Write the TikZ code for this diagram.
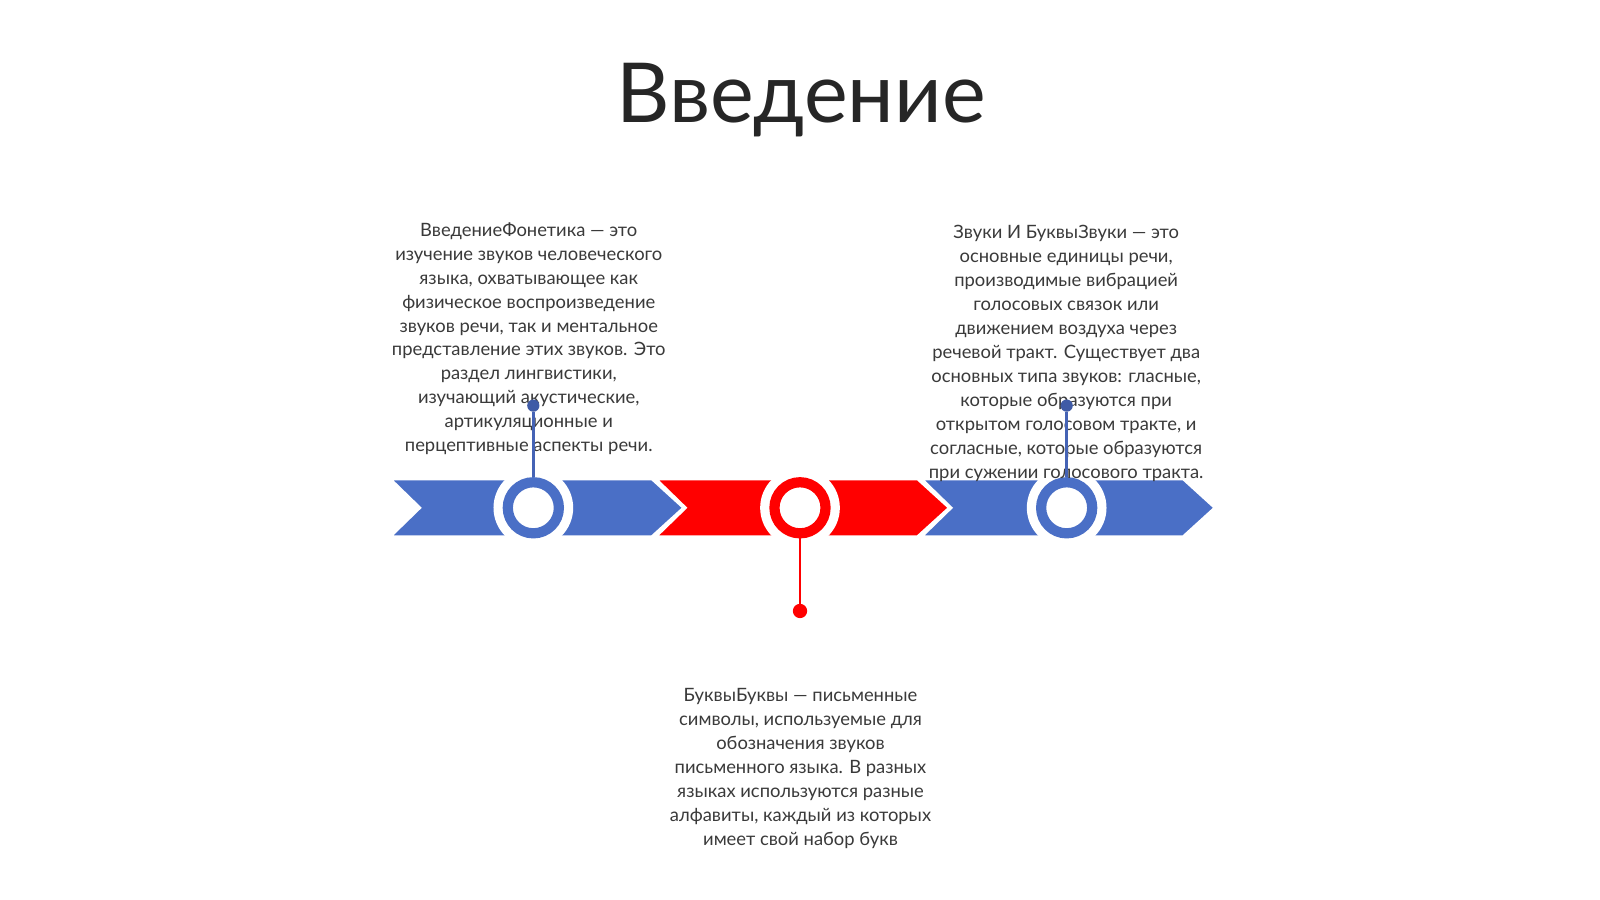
\documentclass[tikz,border=0pt]{standalone}
\usepackage{fontspec}
\setmainfont{Lato}
\newfontfamily\titlefont{Lato}
\definecolor{cblue}{HTML}{4A6FC6}
\definecolor{cred}{HTML}{FF0000}
\definecolor{cdot}{HTML}{3F5BA6}
\definecolor{cline}{HTML}{4563B5}
\definecolor{ctext}{HTML}{3A3A3A}
\definecolor{ctitle}{HTML}{262626}
\newcommand\mychev[2]{\filldraw[fill=#2,draw=white,line width=2.5pt,line join=miter] (#1,468.8) -- ++(256,0) -- ++(31,28.2) -- ++(-31,28.2) -- ++(-256,0) -- ++(29,-28.2) -- cycle;}
\tikzset{
  ring/.style={circle, minimum size=50pt, line width=10pt, fill=white, inner sep=0pt},
  dotnode/.style={circle, minimum size=12pt, inner sep=0pt},
  conn/.style={line width=2.5pt},
  body/.style={font=\fontsize{18}{23.45}\selectfont, text=ctext, align=center, inner sep=0pt},
}
\begin{document}
\begin{tikzpicture}[x=1pt,y=-1pt]
\useasboundingbox (0,0) rectangle (1566,880);
\fill[white] (0,0) rectangle (1566,880);
\node[font=\titlefont\fontsize{81}{90}\selectfont, text=ctitle, anchor=base, inner sep=0pt] (title) at (784,120) {Введение};
\mychev{382}{cblue}
\mychev{642}{cred}
\mychev{902}{cblue}
\coordinate (p1) at (522,497);
\coordinate (p2) at (783,497);
\coordinate (p3) at (1044,497);
\foreach \p in {p1,p2,p3} \fill[white] (\p) circle[radius=39];
\node[ring, draw=cblue] (c1) at (p1) {};
\node[ring, draw=cred] (c2) at (p2) {};
\node[ring, draw=cblue] (c3) at (p3) {};
\node[body] (t1) at (517.5,331.5) {ВведениеФонетика — это\\изучение звуков человеческого\\языка, охватывающее как\\физическое воспроизведение\\звуков речи, так и ментальное\\представление этих звуков. Это\\раздел лингвистики,\\изучающий акустические,\\артикуляционные и\\перцептивные аспекты речи.};
\node[body] (t3) at (1043.5,346) {Звуки И БуквыЗвуки — это\\основные единицы речи,\\производимые вибрацией\\голосовых связок или\\движением воздуха через\\речевой тракт. Существует два\\основных типа звуков: гласные,\\которые образуются при\\открытом голосовом тракте, и\\согласные, которые образуются\\при сужении голосового тракта.};
\node[body] (t2) at (783.5,752.5) {БуквыБуквы — письменные\\символы, используемые для\\обозначения звуков\\письменного языка. В разных\\языках используются разные\\алфавиты, каждый из которых\\имеет свой набор букв};
\node[dotnode, fill=cdot] (d1) at (522,397) {};
\node[dotnode, fill=cred, minimum size=14pt] (d2) at (783,598) {};
\node[dotnode, fill=cdot] (d3) at (1044,397) {};
\draw[conn, cline] (d1) -- (c1);
\draw[conn, cred] (d2) -- (c2);
\draw[conn, cline] (d3) -- (c3);
\end{tikzpicture}
\end{document}
